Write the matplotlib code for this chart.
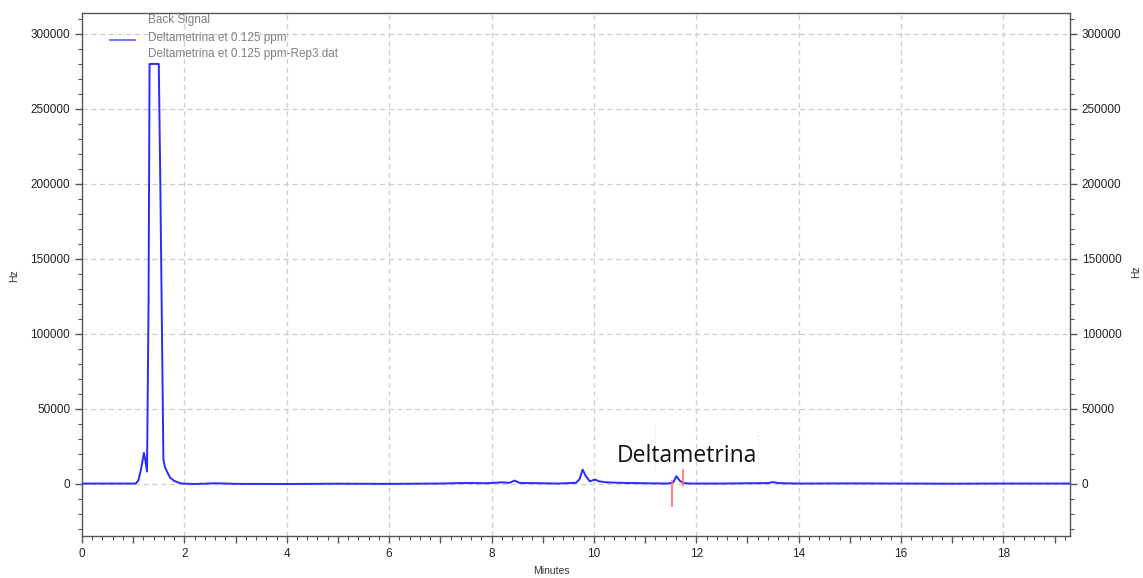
import matplotlib
matplotlib.use("Agg")
import matplotlib.pyplot as plt
from matplotlib.ticker import MultipleLocator, FuncFormatter

# ---- data ----
time_min = [0.00, 1.05, 1.10, 1.15, 1.21, 1.24, 1.27, 1.30, 1.32, 1.50, 1.53, 1.59,
            1.62, 1.66, 1.72, 1.80, 1.88, 1.95, 2.2, 2.6, 3.0, 4.0, 5.0, 6.0, 7.0,
            7.5, 7.9, 8.2, 8.35, 8.45, 8.55, 8.8, 9.3, 9.65, 9.72, 9.78, 9.84,
            9.92, 10.02, 10.1, 10.25, 10.6, 11.0, 11.45, 11.55, 11.61, 11.68, 11.75,
            11.9, 12.5, 13.0, 13.4, 13.5, 13.6, 14.0, 15.0, 16.0, 17.0, 18.0, 19.3]
signal_hz = [0, 0, 2000, 9000, 20500, 15000, 8000, 120000, 280000, 280000, 200000, 16000,
             11000, 8000, 4000, 1800, 700, 0, -300, 200, -200, -300, -100, -200, 0,
             400, 200, 800, 500, 2000, 400, 300, 0, 500, 3000, 9300, 5000,
             1500, 2700, 1500, 800, 400, 200, 0, 800, 4900, 1800, 300,
             0, 0, 200, 300, 1000, 300, 0, 100, 0, -100, 0, 0]

marker_times = [11.52, 11.74]
marker_lo = [-14700, -700]
marker_hi = [1500, 9300]

legend_lines = ["Back Signal", "Deltametrina et 0.125 ppm",
                "Deltametrina et 0.125 ppm-Rep3.dat"]
peak_label = "Deltametrina"
peak_label_pos = (10.45, 18500)

x_limits = (0, 19.3)
y_limits = (-35000, 314000)

# ---- figure ----
W, H = 1143, 578
fig = plt.figure(figsize=(W / 100, H / 100), dpi=100)
plt.rcParams['font.family'] = ['Liberation Sans', 'DejaVu Sans']
ax = fig.add_axes([82 / W, 1 - 536 / H, (1070 - 82) / W, (536 - 13) / H])

ax.set_xlim(*x_limits)
ax.set_ylim(*y_limits)

# grid
for gx in range(2, 19, 2):
    ax.axvline(gx, color='#cccccc', lw=0.9, ls=(0, (4, 3)), zorder=0)
for gy in range(0, 300001, 50000):
    ax.axhline(gy, color='#cccccc', lw=0.9, ls=(0, (4, 3)), zorder=0)

ax.plot(time_min, signal_hz, color='#2a2aff', lw=1.4, zorder=3)
for t, lo, hi in zip(marker_times, marker_lo, marker_hi):
    ax.plot([t, t], [lo, hi], color='#ff6b6b', lw=1.2, zorder=4)

# faint annotation guide lines
for gx, y0, y1 in [(11.2, 10000, 40000), (13.2, 12000, 35000), (13.95, 2000, 25000)]:
    ax.plot([gx, gx], [y0, y1], color='#dddddd', lw=0.8, ls=(0, (1, 2)), zorder=1)

ax.text(peak_label_pos[0], peak_label_pos[1], peak_label, fontsize=16.5,
        family=['Open Sans', 'DejaVu Sans'], va='center', ha='left', color='#111111', zorder=5)

# axes styling
for s in ax.spines.values():
    s.set_color('#555555')
    s.set_linewidth(1.0)

ax.xaxis.set_major_locator(MultipleLocator(1))
ax.xaxis.set_minor_locator(MultipleLocator(0.2))
ax.xaxis.set_major_formatter(FuncFormatter(lambda v, p: f"{int(round(v))}" if int(round(v)) % 2 == 0 else ""))
ax.yaxis.set_major_locator(MultipleLocator(50000))
ax.yaxis.set_minor_locator(MultipleLocator(10000))
ax.yaxis.set_major_formatter(FuncFormatter(lambda v, p: f"{int(v)}"))

ax.tick_params(axis='both', which='major', direction='out', length=5, width=1,
               color='#555555', labelsize=8.5, labelcolor='#222222')
ax.tick_params(axis='both', which='minor', direction='out', length=3, width=0.8, color='#555555')

ax2 = ax.twinx()
ax2.set_ylim(*y_limits)
ax2.yaxis.set_major_locator(MultipleLocator(50000))
ax2.yaxis.set_minor_locator(MultipleLocator(10000))
ax2.yaxis.set_major_formatter(FuncFormatter(lambda v, p: f"{int(v)}"))
ax2.tick_params(axis='y', which='major', direction='out', length=5, width=1,
                color='#555555', labelsize=8.5, labelcolor='#222222')
ax2.tick_params(axis='y', which='minor', direction='out', length=3, width=0.8, color='#555555')
for s in ax2.spines.values():
    s.set_visible(False)

# axis titles
fig.text(551 / W, 1 - 571 / H, "Minutes", fontsize=7.5, color='#333333', ha='center', va='center')
fig.text(14 / W, 1 - 276 / H, "Hz", fontsize=7.5, color='#333333', ha='center', va='center', rotation=90)
fig.text(1136 / W, 1 - 272 / H, "Hz", fontsize=7.5, color='#333333', ha='center', va='center', rotation=90)

# legend (drawn manually: one handle, three text lines)
fig.add_artist(plt.Line2D([110 / W, 135 / W], [1 - 40 / H, 1 - 40 / H],
                          color='#6b6bff', lw=1.3))
for txt, yy in zip(legend_lines, [20, 38, 54]):
    fig.text(148 / W, 1 - yy / H, txt, fontsize=8.5, color='#808080',
             va='center', ha='left')

fig.savefig("out.png", dpi=100)
